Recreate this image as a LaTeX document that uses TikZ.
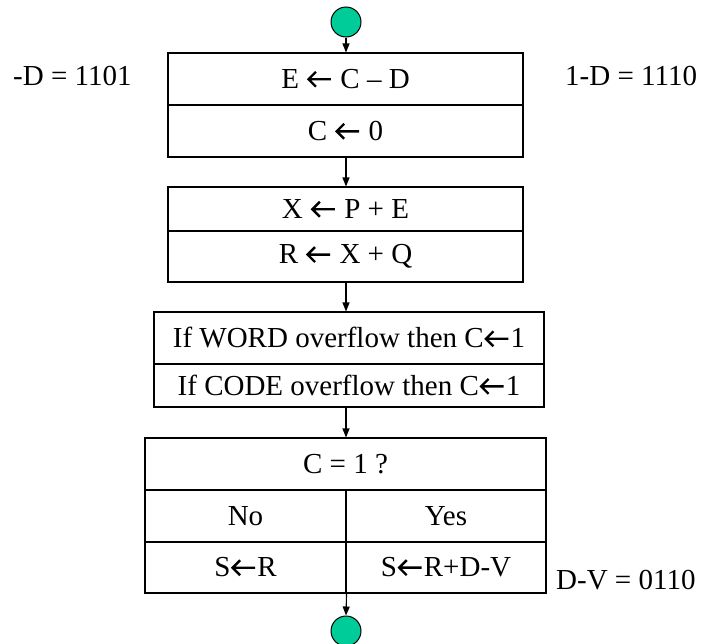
\documentclass[tikz,border=0pt]{standalone}
\usepackage{fontspec}
\setmainfont{Liberation Serif}
\usetikzlibrary{arrows.meta}
\definecolor{term}{HTML}{00CC99}
\newsavebox\arrbox
\AtBeginDocument{\sbox\arrbox{\begin{pgfpicture}%
  \pgfsetlinewidth{2.4pt}\pgfsetmiterjoin
  \pgfpathmoveto{\pgfpoint{24pt}{0pt}}\pgfpathlineto{\pgfpoint{2pt}{0pt}}%
  \pgfpathmoveto{\pgfpoint{9pt}{7.5pt}}\pgfpathlineto{\pgfpoint{1.5pt}{0pt}}\pgfpathlineto{\pgfpoint{9pt}{-7.5pt}}%
  \pgfusepath{stroke}\end{pgfpicture}}}
\newcommand\la{\kern1pt\raisebox{0.5pt}{\usebox\arrbox}\kern1pt}
\begin{document}
\begin{tikzpicture}[x=1pt,y=-1pt,
  cell/.style={draw, line width=1.1pt, inner sep=0pt, minimum width=#1, font=\fontsize{29}{34}\selectfont},
  term/.style={circle, draw, line width=1pt, fill=term, minimum size=30pt, inner sep=0pt},
  flow/.style={line width=1.1pt, -{Triangle[length=9pt,width=7pt]}},
  side/.style={inner sep=0pt, font=\fontsize{29}{34}\selectfont}]
\useasboundingbox (0,0) rectangle (704,643);
% terminals
\node[term] (start) at (346,22) {};
\node[term] (stop) at (346,631) {};
% box 1
\node[cell=355pt, minimum height=52pt] (b1a) at (345.5,79) {E \la{} C -- D};
\node[cell=355pt, minimum height=52pt] (b1b) at (345.5,131) {C \la{} 0};
% box 2
\node[cell=355pt, minimum height=44pt] (b2a) at (345.5,209) {X \la{} P + E};
\node[cell=355pt, minimum height=51pt] (b2b) at (345.5,256.5) {R \la{} X + Q};
% box 3
\node[cell=390pt, minimum height=52pt] (b3a) at (349,338) {If WORD overflow then C\la1};
\node[cell=390pt, minimum height=43pt] (b3b) at (349,385.5) {If CODE overflow then C\la1};
% box 4
\node[cell=401pt, minimum height=52pt] (b4a) at (345.5,464) {C = 1 ?};
\node[cell=201pt, minimum height=52pt] (no) at (245.5,516) {No};
\node[cell=200pt, minimum height=52pt] (yes) at (446,516) {Yes};
\node[cell=201pt, minimum height=51pt] (sr) at (245.5,567.5) {S\la R};
\node[cell=200pt, minimum height=51pt] (srdv) at (446,567.5) {S\la R+D-V};
% side notes
\node[side, anchor=west] (nd) at (13,76) {-D = 1101};
\node[side, anchor=west] (od) at (565,76) {1-D = 1110};
\node[side, anchor=west] (dv) at (556,580) {D-V = 0110};
% connectors
\draw[flow] (start.south) -- (start.south |- b1a.north);
\draw[flow] (b1b.south -| start) -- (b2a.north -| start);
\draw[flow] (b2b.south -| start) -- (b3a.north -| start);
\draw[flow] (b3b.south -| start) -- (b4a.north -| start);
\draw[flow] (sr.south east) -- (stop.north);
\end{tikzpicture}
\end{document}
